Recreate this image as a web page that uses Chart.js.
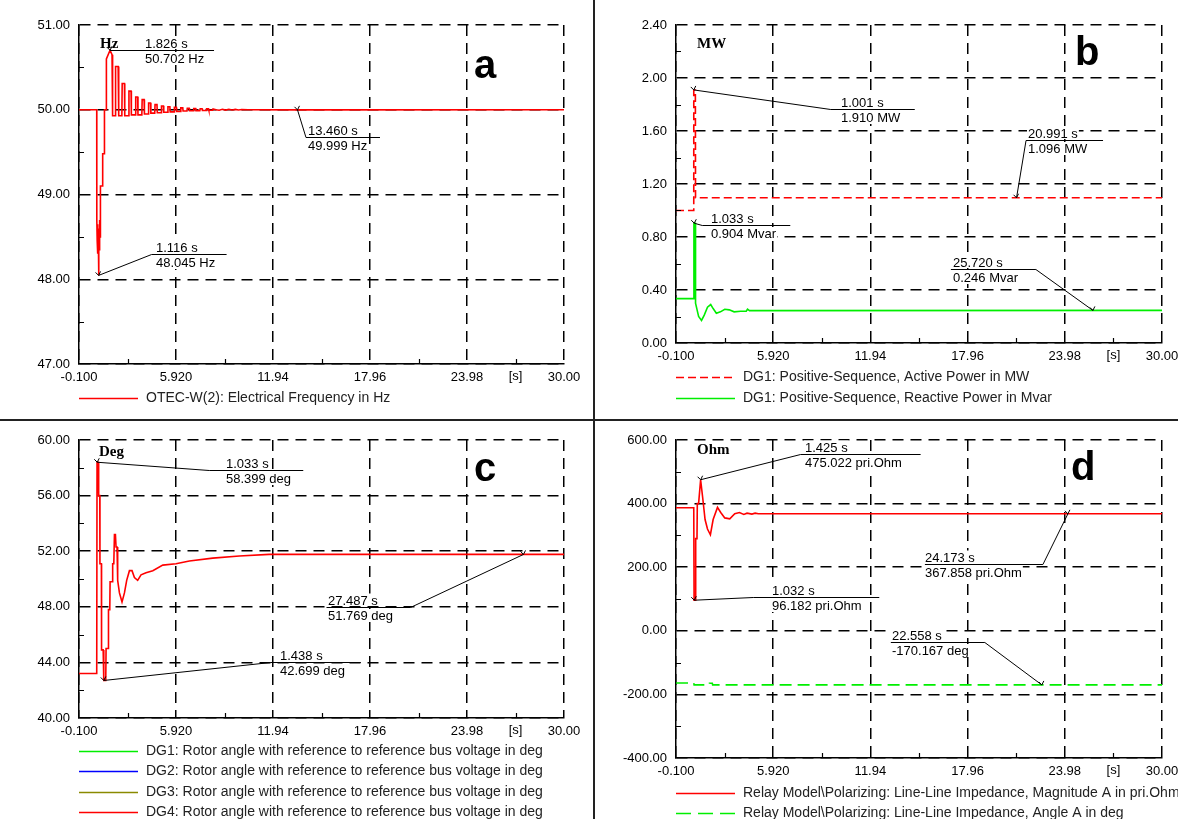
<!DOCTYPE html>
<html><head><meta charset="utf-8">
<script src="https://cdn.jsdelivr.net/npm/chart.js@4.4.1/dist/chart.umd.min.js"></script>
<style>
html,body{margin:0;padding:0;background:#fff;}
#wrap{position:relative;width:1178px;height:819px;overflow:hidden;background:#fff;}
.pane{position:absolute;}
#vline{position:absolute;left:593px;top:0;width:2px;height:819px;background:#222;}
#hline{position:absolute;left:0;top:419px;width:1178px;height:2px;background:#222;}
</style></head>
<body><div id="wrap">
<canvas id="ca" class="pane" width="593" height="419" style="left:0;top:0"></canvas>
<canvas id="cb" class="pane" width="583" height="419" style="left:595px;top:0"></canvas>
<canvas id="cc" class="pane" width="593" height="398" style="left:0;top:421px"></canvas>
<canvas id="cd" class="pane" width="583" height="398" style="left:595px;top:421px"></canvas>
<div id="vline"></div><div id="hline"></div>
</div>
<script>
// ---------- shared x axis ----------
const xTicks = [-0.1, 5.92, 11.94, 17.96, 23.98, 30.0];
const xTickLabels = ['-0.100', '5.920', '11.94', '17.96', '23.98', '30.00'];
const xUnitLabel = '[s]';

// ---------- panel a : frequency ----------
const freqTicks = [47, 48, 49, 50, 51];
const freqTickLabels = ['47.00', '48.00', '49.00', '50.00', '51.00'];
const freqSeries = [[-0.1,50],[1.0,50],[1.005,48.7],[1.03,48.45],[1.05,48.65],[1.07,48.3],[1.09,48.6],[1.116,48.045],[1.14,48.55],[1.16,48.35],[1.18,48.7],[1.21,48.5],[1.23,49.1],[1.36,49.1],[1.37,49.48],[1.47,49.48],[1.48,50.0],[1.58,50.0],[1.6,50.6],[1.826,50.702],[1.95,50.65],[1.97,50.0],[2.0,49.93],[2.15,49.93],[2.17,50.51],[2.33,50.51],[2.35,50.0],[2.38,49.93],[2.56,49.93],[2.58,50.31],[2.72,50.31],[2.74,49.93],[2.98,49.93],[3.0,50.22],[3.13,50.22],[3.15,49.94],[3.4,49.94],[3.42,50.15],[3.54,50.15],[3.56,49.94],[3.8,49.94],[3.82,50.12],[3.94,50.12],[3.96,49.95],[4.2,49.95],[4.22,50.08],[4.34,50.08],[4.36,49.96],[4.6,49.96],[4.62,50.06],[4.74,50.06],[4.76,49.965],[5.0,49.965],[5.02,50.045],[5.14,50.045],[5.16,49.97],[5.4,49.97],[5.42,50.035],[5.54,50.035],[5.56,49.975],[5.8,49.975],[5.82,50.028],[5.94,50.028],[5.96,49.98],[6.2,49.98],[6.22,50.022],[6.34,50.022],[6.36,49.985],[6.6,49.985],[6.62,50.018],[6.74,50.018],[6.76,49.988],[7.0,49.988],[7.02,50.015],[7.14,50.015],[7.16,49.99],[7.4,49.99],[7.42,50.012],[7.54,50.012],[7.56,49.992],[7.8,49.992],[7.82,50.01],[7.94,50.01],[7.96,49.994],[8.2,49.994],[8.22,50.008],[8.4,50.0],[8.6,49.995],[8.8,50.006],[9.0,49.996],[9.2,50.005],[9.4,49.997],[9.6,50.004],[9.8,49.998],[10.0,50.003],[10.4,50.0],[13.46,49.999],[30.0,50.0]];
const freqCalloutT = [1.826, 13.460, 1.116];
const freqCalloutV = [50.702, 49.999, 48.045];
const freqCalloutUnit = ['Hz', 'Hz', 'Hz'];

// ---------- panel b : power ----------
const powerTicks = [0, 0.4, 0.8, 1.2, 1.6, 2.0, 2.4];
const powerTickLabels = ['0.00', '0.40', '0.80', '1.20', '1.60', '2.00', '2.40'];
const activeSeries = [[-0.1,1.0],[1.0,1.0],[1.001,1.91],[1.1,1.91],[1.11,1.096],[30.0,1.096]];
const reactiveSeries = [[-0.1,0.335],[1.0,0.335],[1.01,0.904],[1.1,0.904],[1.11,0.30],[1.3,0.2],[1.48,0.17],[1.65,0.21],[1.85,0.27],[2.05,0.29],[2.2,0.26],[2.4,0.225],[2.65,0.235],[2.92,0.255],[3.2,0.25],[3.5,0.235],[3.9,0.24],[4.25,0.24],[4.33,0.255],[4.45,0.244],[30.0,0.246]];
const powerCalloutT = [1.001, 20.991, 1.033, 25.720];
const powerCalloutV = [1.910, 1.096, 0.904, 0.246];
const powerCalloutUnit = ['MW', 'MW', 'Mvar', 'Mvar'];

// ---------- panel c : rotor angle ----------
const angleTicks = [40, 44, 48, 52, 56, 60];
const angleTickLabels = ['40.00', '44.00', '48.00', '52.00', '56.00', '60.00'];
const rotorSeries = [[-0.1,43.2],[1.0,43.2],[1.02,58.4],[1.1,58.4],[1.12,56.0],[1.19,56.0],[1.2,51.1],[1.29,51.1],[1.3,44.9],[1.4,44.9],[1.438,42.7],[1.56,42.7],[1.58,45.0],[1.71,45.0],[1.73,47.8],[1.81,47.8],[1.83,49.8],[1.97,49.8],[1.99,51.1],[2.06,51.1],[2.1,53.2],[2.16,53.2],[2.2,52.3],[2.26,52.3],[2.3,49.9],[2.41,49.0],[2.57,48.35],[2.72,49.0],[2.86,49.9],[3.03,50.6],[3.19,50.6],[3.34,50.1],[3.54,49.9],[3.75,50.3],[4.06,50.45],[4.48,50.6],[5.1,51.0],[5.92,51.1],[6.75,51.3],[8.2,51.5],[9.85,51.65],[11.7,51.77],[30.0,51.769]];
const angleCalloutT = [1.033, 27.487, 1.438];
const angleCalloutV = [58.399, 51.769, 42.699];
const angleCalloutUnit = ['deg', 'deg', 'deg'];

// ---------- panel d : relay impedance ----------
const impTicks = [-400, -200, 0, 200, 400, 600];
const impTickLabels = ['-400.00', '-200.00', '0.00', '200.00', '400.00', '600.00'];
const impMagSeries = [[-0.1,387],[1.0,387],[1.02,96.2],[1.1,96.2],[1.12,290],[1.2,290],[1.22,400],[1.3,400],[1.425,475],[1.55,420],[1.7,350],[1.85,320],[2.03,302],[2.2,350],[2.47,388],[2.67,372],[2.92,355],[3.23,352],[3.54,368],[3.83,372],[4.1,366],[4.3,370],[4.6,367],[4.8,370],[5.0,367.9],[30.0,367.858]];
const impAngSeries = [[-0.1,-164],[1.0,-164],[1.02,-170.2],[1.95,-170.2],[1.97,-165],[2.15,-165],[2.17,-170.2],[30.0,-170.167]];
const impCalloutT = [1.425, 24.173, 1.032, 22.558];
const impCalloutV = [475.022, 367.858, 96.182, -170.167];
const impCalloutUnit = ['pri.Ohm', 'pri.Ohm', 'pri.Ohm', 'deg'];

// ---------- layout (pixel offsets, not data) ----------
const layoutA = [[0,0,0,104,35],[8.5,27,8.5,82.5,11],[53,-21,53,128,57]];
const layoutB = [[137,19,137,221,147],[9.5,-58,9.5,86.5,11],[8,2,8,96,17],[-57,-41,-142,-57,-140]];
const layoutC = [[112,8,112,206,129],[-113,53,-197,-113,-196],[167,-18,167,257,176]];
const layoutD = [[100,-26,100,220,104],[-25,50,-143,-25,-143],[59,-3,59,185,78],[-57,-43,-151,-57,-150]];

const FONT = '"Liberation Sans", Arial, sans-serif';
const pts = s => s.map(p => ({x: p[0], y: p[1]}));

function makeDeco(cfg) {
  return {
    id: 'deco',
    afterDraw(chart) {
      const c = chart.ctx, a = chart.chartArea, xs = chart.scales.x, ys = chart.scales.y;
      c.save();
      c.setLineDash([]); c.strokeStyle = '#000'; c.lineWidth = 1.2;
      c.beginPath();
      for (let i = 0; i < xTicks.length - 1; i++) {
        const px = Math.round(xs.getPixelForValue((xTicks[i] + xTicks[i+1]) / 2)) + 0.5;
        c.moveTo(px, a.bottom); c.lineTo(px, a.bottom - 5);
      }
      for (let i = 0; i < cfg.yTicks.length - 1; i++) {
        const py = Math.round(ys.getPixelForValue((cfg.yTicks[i] + cfg.yTicks[i+1]) / 2)) + 0.5;
        c.moveTo(a.left, py); c.lineTo(a.left + 5, py);
      }
      c.stroke();
      // x unit
      const n = xTicks.length;
      c.fillStyle = '#000'; c.font = '13px ' + FONT; c.textAlign = 'center'; c.textBaseline = 'top';
      c.fillText(xUnitLabel, xs.getPixelForValue((xTicks[n-2] + xTicks[n-1]) / 2), a.bottom + 6);
      // unit label
      c.font = 'bold 15px "Liberation Serif", serif'; c.textAlign = 'left'; c.textBaseline = 'middle';
      c.fillText(cfg.unit, a.left + cfg.unitPos[0], a.top + cfg.unitPos[1]);
      // panel letter
      c.font = 'bold 40px ' + FONT; c.textBaseline = 'alphabetic';
      c.fillText(cfg.letter, a.right + cfg.letterPos[0], a.top + cfg.letterPos[1]);
      // callouts
      c.font = '13px ' + FONT;
      cfg.cT.forEach((t, i) => {
        const v = cfg.cV[i], L = cfg.layout[i];
        const px = xs.getPixelForValue(t), py = ys.getPixelForValue(v);
        const ly = Math.round(py + L[1]) + 0.5;
        c.strokeStyle = '#000'; c.lineWidth = 1;
        c.beginPath();
        c.moveTo(px, py); c.lineTo(px + L[0], ly);
        c.moveTo(px + L[2], ly); c.lineTo(px + L[3], ly);
        c.moveTo(px - 3, py - 3); c.lineTo(px, py); c.lineTo(px + 2, py - 4);
        c.stroke();
        const tx = Math.round(px + L[4]);
        const s1 = t.toFixed(3) + ' s', s2 = v.toFixed(3) + ' ' + cfg.cU[i];
        c.textAlign = 'left'; c.textBaseline = 'alphabetic';
        c.fillStyle = '#fff';
        c.fillRect(tx - 1, ly - 14, c.measureText(s1).width + 2, 12.5);
        c.fillRect(tx - 1, ly + 1.5, c.measureText(s2).width + 2, 13);
        c.fillStyle = '#000';
        c.fillText(s1, tx, ly - 3);
        c.fillText(s2, tx, ly + 12);
      });
      // legend
      chart.data.datasets.forEach((ds, i) => {
        const y = Math.round(a.bottom + cfg.legendTop + i * cfg.legendStep) + 0.5;
        c.beginPath(); c.strokeStyle = ds.borderColor; c.lineWidth = 1.6;
        c.setLineDash(ds.legendDash || []);
        c.moveTo(a.left, y); c.lineTo(a.left + 59, y); c.stroke();
        c.setLineDash([]);
        c.fillStyle = '#222'; c.font = '14px ' + FONT; c.textAlign = 'left'; c.textBaseline = 'middle';
        c.fillText(ds.label, a.left + 67, y);
      });
      c.restore();
    }
  };
}

function buildPanel(id, cfg) {
  return new Chart(document.getElementById(id), {
    type: 'line',
    data: { datasets: cfg.datasets },
    options: {
      responsive: false, animation: false, events: [],
      layout: { padding: { left: 0, top: cfg.pad[0], right: cfg.pad[1], bottom: cfg.pad[2] } },
      plugins: { legend: { display: false }, tooltip: { enabled: false } },
      elements: { point: { radius: 0 }, line: { tension: 0, borderWidth: 1.6 } },
      scales: {
        x: {
          type: 'linear', min: xTicks[0], max: xTicks[xTicks.length - 1],
          afterBuildTicks: s => { s.ticks = xTicks.map(v => ({ value: v })); },
          afterFit: s => { s.height = 20; s.paddingLeft = 0; s.paddingRight = 0; },
          ticks: { autoSkip: false, maxRotation: 0, padding: 6, color: '#000', font: { family: FONT, size: 13 },
                   callback: (v, i) => xTickLabels[i] },
          grid: { color: '#000', lineWidth: 1.5, drawTicks: false },
          border: { display: true, color: '#000', width: 1.5, dash: [11, 7] }
        },
        y: {
          type: 'linear', min: cfg.yTicks[0], max: cfg.yTicks[cfg.yTicks.length - 1],
          afterBuildTicks: s => { s.ticks = cfg.yTicks.map(v => ({ value: v })); },
          afterFit: s => { s.width = cfg.axisLeft; s.paddingTop = 0; s.paddingBottom = 0; },
          ticks: { autoSkip: false, padding: 9, color: '#000', font: { family: FONT, size: 13 },
                   callback: (v, i) => cfg.yLabels[i] },
          grid: { color: '#000', lineWidth: 1.5, drawTicks: false },
          border: { display: true, color: '#000', width: 1.5, dash: [11, 7] }
        }
      }
    },
    plugins: [makeDeco(cfg)]
  });
}

buildPanel('ca', {
  pad: [25, 29, 35], axisLeft: 79, yTicks: freqTicks, yLabels: freqTickLabels,
  unit: 'Hz', unitPos: [21, 19], letter: 'a', letterPos: [-90, 53],
  cT: freqCalloutT, cV: freqCalloutV, cU: freqCalloutUnit, layout: layoutA,
  legendTop: 34, legendStep: 21,
  datasets: [
    { label: 'OTEC-W(2): Electrical Frequency in Hz', data: pts(freqSeries), borderColor: '#ff0000', borderWidth: 1.6 }
  ]
});

buildPanel('cb', {
  pad: [25, 16, 56], axisLeft: 81, yTicks: powerTicks, yLabels: powerTickLabels,
  unit: 'MW', unitPos: [21, 19], letter: 'b', letterPos: [-87, 40],
  cT: powerCalloutT, cV: powerCalloutV, cU: powerCalloutUnit, layout: layoutB,
  legendTop: 34, legendStep: 21,
  datasets: [
    { label: 'DG1: Positive-Sequence, Active Power in MW', data: pts(activeSeries), borderColor: '#ff0000', borderDash: [8, 4], legendDash: [8, 4], borderWidth: 1.6 },
    { label: 'DG1: Positive-Sequence, Reactive Power in Mvar', data: pts(reactiveSeries), borderColor: '#00ee00', borderWidth: 1.6 }
  ]
});

buildPanel('cc', {
  pad: [19, 29, 81], axisLeft: 79, yTicks: angleTicks, yLabels: angleTickLabels,
  unit: 'Deg', unitPos: [20, 12], letter: 'c', letterPos: [-90, 41],
  cT: angleCalloutT, cV: angleCalloutV, cU: angleCalloutUnit, layout: layoutC,
  legendTop: 33, legendStep: 20.4,
  datasets: [
    { label: 'DG1: Rotor angle with reference to reference bus voltage in deg', data: [], borderColor: '#00ee00' },
    { label: 'DG2: Rotor angle with reference to reference bus voltage in deg', data: [], borderColor: '#0000ff' },
    { label: 'DG3: Rotor angle with reference to reference bus voltage in deg', data: [], borderColor: '#8a8a00' },
    { label: 'DG4: Rotor angle with reference to reference bus voltage in deg', data: pts(rotorSeries), borderColor: '#ff0000', borderWidth: 1.6 }
  ]
});

buildPanel('cd', {
  pad: [19, 16, 41], axisLeft: 81, yTicks: impTicks, yLabels: impTickLabels,
  unit: 'Ohm', unitPos: [21, 10], letter: 'd', letterPos: [-91, 40],
  cT: impCalloutT, cV: impCalloutV, cU: impCalloutUnit, layout: layoutD,
  legendTop: 35, legendStep: 20,
  datasets: [
    { label: 'Relay Model\\Polarizing: Line-Line Impedance, Magnitude A in pri.Ohm', data: pts(impMagSeries), borderColor: '#ff0000', borderWidth: 1.6 },
    { label: 'Relay Model\\Polarizing: Line-Line Impedance, Angle A in deg', data: pts(impAngSeries), borderColor: '#00ee00', borderDash: [12, 6], legendDash: [15, 7], borderWidth: 1.6 }
  ]
});
</script>
</body></html>
